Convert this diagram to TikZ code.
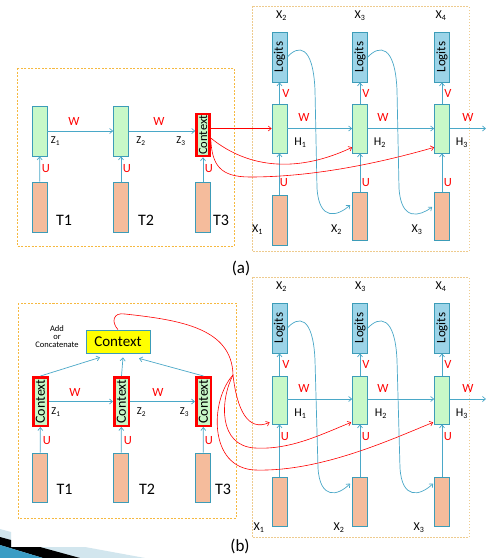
\documentclass[tikz,border=0pt]{standalone}
\usepackage{fontspec}
\usepackage{graphicx}
\setmainfont{Carlito}
\usetikzlibrary{arrows.meta}
\definecolor{tealb}{HTML}{3C9CB8}
\definecolor{greenf}{HTML}{C8F8C8}
\definecolor{orangef}{HTML}{F5BC9C}
\definecolor{logitf}{HTML}{9CD4E8}
\definecolor{bluel}{HTML}{4AA8C8}
\definecolor{dashor}{HTML}{F6B940}
\definecolor{dashpale}{HTML}{EECB8E}
\definecolor{lightdec}{HTML}{D2E6EE}
\definecolor{bluedec}{HTML}{3A9CC4}
\definecolor{yellowf}{HTML}{FFFF00}
\begin{document}
\begin{tikzpicture}[x=1pt,y=-1pt,
  fs/.style={font=\fontsize{#1}{#1}\selectfont},
  boxbase/.style={draw=tealb, line width=0.7pt, inner sep=0pt, minimum width=15, minimum height=50},
  encbox/.style={boxbase, fill=greenf},
  inbox/.style={boxbase, fill=orangef},
  logbox/.style={boxbase, fill=logitf, fs=13},
  ctxbox/.style={draw=red, line width=2.5pt, fill=greenf, inner sep=0pt, minimum width=13, minimum height=42, fs=12.5},
  redlab/.style={text=red, fs=12.5, inner sep=0pt},
  blab/.style={text=black, fs=12, inner sep=0pt},
  tlab/.style={text=black, fs=16, inner sep=0pt},
  barr/.style={draw=bluel, line width=0.7pt, -{Straight Barb[length=3pt,width=5pt]}},
  rarr/.style={draw=red, line width=0.6pt, -{Straight Barb[length=3pt,width=5pt]}},
  rline/.style={draw=red, line width=0.6pt},
  dashleft/.style={draw=dashor, line width=0.6pt, dash pattern=on 2pt off 1.5pt},
  dashright/.style={draw=dashpale, line width=0.6pt, dash pattern=on 1.5pt off 1.5pt}
]
\useasboundingbox[fill=white] (0,0) rectangle (497,558);

% ================= (a) =================
\draw[dashleft] (17,68) rectangle (234,246);
\draw[dashright] (252,6) rectangle (469,251);

\node[encbox] (e1) at (39.5,131) {};
\node[encbox] (e2) at (121,131) {};
\node[ctxbox] (c3) at (203,135) {\rotatebox{90}{Context}};
\node[inbox] (t1) at (40,207) {};
\node[inbox] (t2) at (121,207) {};
\node[inbox] (t3) at (203,207) {};

\draw[barr] (t1) -- (e1);
\draw[barr] (t2) -- (e2);
\draw[barr] (t3) -- (c3);
\draw[barr] (e1) -- (e2);
\draw[barr] (e2.east) -- (e2.east -| c3.west);

\node[redlab] (wa1) at (74,121) {W};
\node[redlab] (wa2) at (159,121) {W};
\node[redlab] (ua1) at (46,169) {U};
\node[redlab] (ua2) at (127,169) {U};
\node[redlab] (ua3) at (209,169) {U};
\node[blab, fs=10.5] (za1) at (55.5,141) {Z\textsubscript{1}};
\node[blab, fs=10.5] (za2) at (141,141) {Z\textsubscript{2}};
\node[blab, fs=10.5] (za3) at (181,141) {Z\textsubscript{3}};
\node[tlab] (ta1) at (64,220) {T1};
\node[tlab] (ta2) at (146,220) {T2};
\node[tlab] (ta3) at (221,220) {T3};

% right part (a)
\node[logbox] (L1) at (279.5,57) {\rotatebox{90}{Logits}};
\node[logbox] (L2) at (360,57) {\rotatebox{90}{Logits}};
\node[logbox] (L3) at (442,57) {\rotatebox{90}{Logits}};
\node[encbox, minimum height=49] (H1) at (279.5,128.5) {};
\node[encbox, minimum height=49] (H2) at (360,128.5) {};
\node[encbox, minimum height=49] (H3) at (442,128.5) {};
\node[inbox] (X1) at (279.5,220) {};
\node[inbox, minimum height=48] (X2) at (360,216) {};
\node[inbox, minimum height=48] (X3) at (442,216) {};
\coordinate (hend) at (486,128.5);

\draw[barr] (X1) -- (H1);
\draw[barr] (X2) -- (H2);
\draw[barr] (X3) -- (H3);
\draw[barr] (H1) -- (L1);
\draw[barr] (H2) -- (L2);
\draw[barr] (H3) -- (L3);
\draw[barr] (H1) -- (H2);
\draw[barr] (H2) -- (H3);
\draw[barr] (H3) -- (hend);

\draw[barr] (L1.east) .. controls (298,45) and (313,44) .. (315,90) -- (317,188) .. controls (319,222) and (338,216) .. ([shift={(-2pt,11pt)}]X2.west);
\draw[barr] (L2.east) .. controls (379,45) and (395,44) .. (397,90) -- (399,188) .. controls (401,222) and (420,216) .. ([shift={(-2pt,9pt)}]X3.west);

\draw[rarr] (c3.east |- H1) -- (H1.west);
\draw[rarr] ([yshift=-3pt]c3.east) .. controls (250,170) and (300,172) .. ([yshift=6pt]H2.south west);
\draw[rarr] ([yshift=-4pt]c3.east) .. controls (212,165) and (220,177) .. (250,177) .. controls (320,177) and (390,160) .. ([yshift=6pt]H3.south west);

\node[blab] (xa2) at (281.5,16) {X\textsubscript{2}};
\node[blab] (xa3) at (360,16) {X\textsubscript{3}};
\node[blab] (xa4) at (441,16) {X\textsubscript{4}};
\node[redlab] (va1) at (286,93) {V};
\node[redlab] (va2) at (366,93) {V};
\node[redlab] (va3) at (448,93) {V};
\node[redlab] (wr1) at (304,117) {W};
\node[redlab] (wr2) at (383,117) {W};
\node[redlab] (wr3) at (468,117) {W};
\node[blab] (ha1) at (300.5,143) {H\textsubscript{1}};
\node[blab] (ha2) at (380,143) {H\textsubscript{2}};
\node[blab] (ha3) at (462,143) {H\textsubscript{3}};
\node[redlab] (ur1) at (284,183) {U};
\node[redlab] (ur2) at (366,183) {U};
\node[redlab] (ur3) at (448,183) {U};
\node[blab] (xb1) at (257.5,230) {X\textsubscript{1}};
\node[blab] (xb2) at (336.5,230) {X\textsubscript{2}};
\node[blab] (xb3) at (417,230) {X\textsubscript{3}};

\node[fs=17, inner sep=0pt] (capa) at (241,268) {(a)};

% ================= (b) =================
\draw[dashleft] (18,303) rectangle (236,518);
\draw[dashright] (252,277) rectangle (469,537);

\node[draw=tealb, line width=0.8pt, fill=yellowf, minimum width=64, minimum height=23, inner sep=0pt, fs=15] (yc) at (118,341.5) {Context};
\node[fs=8.5, align=center, inner sep=0pt] (addc) at (57,337) {Add\\[-0.5pt]or\\[-0.5pt]Concatenate};

\node[ctxbox, minimum width=14.5, minimum height=48.5, fs=14] (b1) at (40.5,401.5) {\rotatebox{90}{Context}};
\node[ctxbox, minimum width=14.5, minimum height=48.5, fs=14] (b2) at (121.5,401.5) {\rotatebox{90}{Context}};
\node[ctxbox, minimum width=14.5, minimum height=48.5, fs=14] (b3) at (203.5,401.5) {\rotatebox{90}{Context}};
\node[inbox, minimum height=49] (tb1) at (40,477.5) {};
\node[inbox, minimum height=49] (tb2) at (121,477.5) {};
\node[inbox, minimum height=49] (tb3) at (203,477.5) {};

\draw[barr] (tb1) -- (b1);
\draw[barr] (tb2) -- (b2);
\draw[barr] (tb3) -- (b3);
\draw[barr] (b1) -- (b2);
\draw[barr] (b2) -- (b3);
\draw[barr] (b1.north) -- ([shift={(-18pt,-4pt)}]yc.south);
\draw[barr] (b2.north) -- ([shift={(5pt,-4pt)}]yc.south);
\draw[barr] (b3.north) -- ([shift={(21pt,-5pt)}]yc.south);

\node[redlab] (wb1) at (75,392) {W};
\node[redlab] (wb2) at (158,392) {W};
\node[redlab] (ub1) at (47,441) {U};
\node[redlab] (ub2) at (128,441) {U};
\node[redlab] (ub3) at (209,441) {U};
\node[blab, fs=10.5] (zb1) at (56,412) {Z\textsubscript{1}};
\node[blab, fs=10.5] (zb2) at (141.5,412) {Z\textsubscript{2}};
\node[blab, fs=10.5] (zb3) at (184.5,412) {Z\textsubscript{3}};
\node[tlab] (tl1) at (64.5,489.5) {T1};
\node[tlab] (tl2) at (147,489.5) {T2};
\node[tlab] (tl3) at (223,489.5) {T3};

% right part (b)
\node[logbox] (M1) at (279.5,328) {\rotatebox{90}{Logits}};
\node[logbox] (M2) at (360,328) {\rotatebox{90}{Logits}};
\node[logbox] (M3) at (442,328) {\rotatebox{90}{Logits}};
\node[encbox, minimum height=48] (G1) at (279.5,400) {};
\node[encbox, minimum height=48] (G2) at (360,400) {};
\node[encbox, minimum height=48] (G3) at (442,400) {};
\node[inbox, minimum height=49] (Y1) at (279.5,501.5) {};
\node[inbox, minimum height=49] (Y2) at (360,501.5) {};
\node[inbox, minimum height=49] (Y3) at (442,501.5) {};
\coordinate (gend) at (486,399);

\draw[barr] (Y1) -- (G1);
\draw[barr] (Y2) -- (G2);
\draw[barr] (Y3) -- (G3);
\draw[barr] (G1) -- (M1);
\draw[barr] (G2) -- (M2);
\draw[barr] (G3) -- (M3);
\draw[barr] (G1.east |- gend) -- (G2.west |- gend);
\draw[barr] (G2.east |- gend) -- (G3.west |- gend);
\draw[barr] (G3.east |- gend) -- (gend);

\draw[barr] (M1.east) .. controls (298,316) and (313,315) .. (315,360) -- (318,468) .. controls (320,500) and (338,496) .. ([shift={(-2pt,18pt)}]Y2.west);
\draw[barr] (M2.east) .. controls (379,316) and (395,315) .. (397,360) -- (400,468) .. controls (402,500) and (420,496) .. ([shift={(-1pt,18pt)}]Y3.west);

\coordinate (hub) at (233,375);
\draw[rline] (yc.north) .. controls (111,322) and (113,312) .. (125,314) .. controls (180,320) and (232,328) .. (hub);
\draw[rarr] (hub) .. controls (237,410) and (248,432) .. ([shift={(-2pt,2pt)}]G1.south west);
\draw[rarr] (hub) .. controls (220,400) and (218,446) .. (255,448) .. controls (290,450) and (320,435) .. ([shift={(-1pt,2pt)}]G2.south west);
\draw[rarr] (hub) .. controls (210,400) and (208,468) .. (255,470) .. controls (320,472) and (390,440) .. ([shift={(-1pt,2pt)}]G3.south west);

\node[blab] (xc2) at (281.5,287) {X\textsubscript{2}};
\node[blab] (xc3) at (360.5,287) {X\textsubscript{3}};
\node[blab] (xc4) at (441,287) {X\textsubscript{4}};
\node[redlab] (vb1) at (286,364) {V};
\node[redlab] (vb2) at (366,364) {V};
\node[redlab] (vb3) at (448,364) {V};
\node[redlab] (wc1) at (304,388) {W};
\node[redlab] (wc2) at (383,388) {W};
\node[redlab] (wc3) at (468,388) {W};
\node[blab] (hb1) at (300.5,413.5) {H\textsubscript{1}};
\node[blab] (hb2) at (381,413.5) {H\textsubscript{2}};
\node[blab] (hb3) at (462,413.5) {H\textsubscript{3}};
\node[redlab] (uc1) at (285,437) {U};
\node[redlab] (uc2) at (366,437) {U};
\node[redlab] (uc3) at (448,437) {U};
\node[blab] (xd1) at (259,527.5) {X\textsubscript{1}};
\node[blab] (xd2) at (339,527.5) {X\textsubscript{2}};
\node[blab] (xd3) at (419,527.5) {X\textsubscript{3}};

\node[fs=17, inner sep=0pt] (capb) at (240,546.5) {(b)};

% slide decoration
\fill[lightdec] (0,529) -- (11,532) -- (11,547) -- (85,547) -- (145,558) -- (0,558) -- cycle;
\fill[black] (0,537) -- (11,540) -- (11,547) -- (40,547) -- (80,558) -- (43,558) -- (0,545) -- cycle;
\fill[bluedec] (0,545) -- (43,558) -- (0,558) -- cycle;
\end{tikzpicture}
\end{document}
